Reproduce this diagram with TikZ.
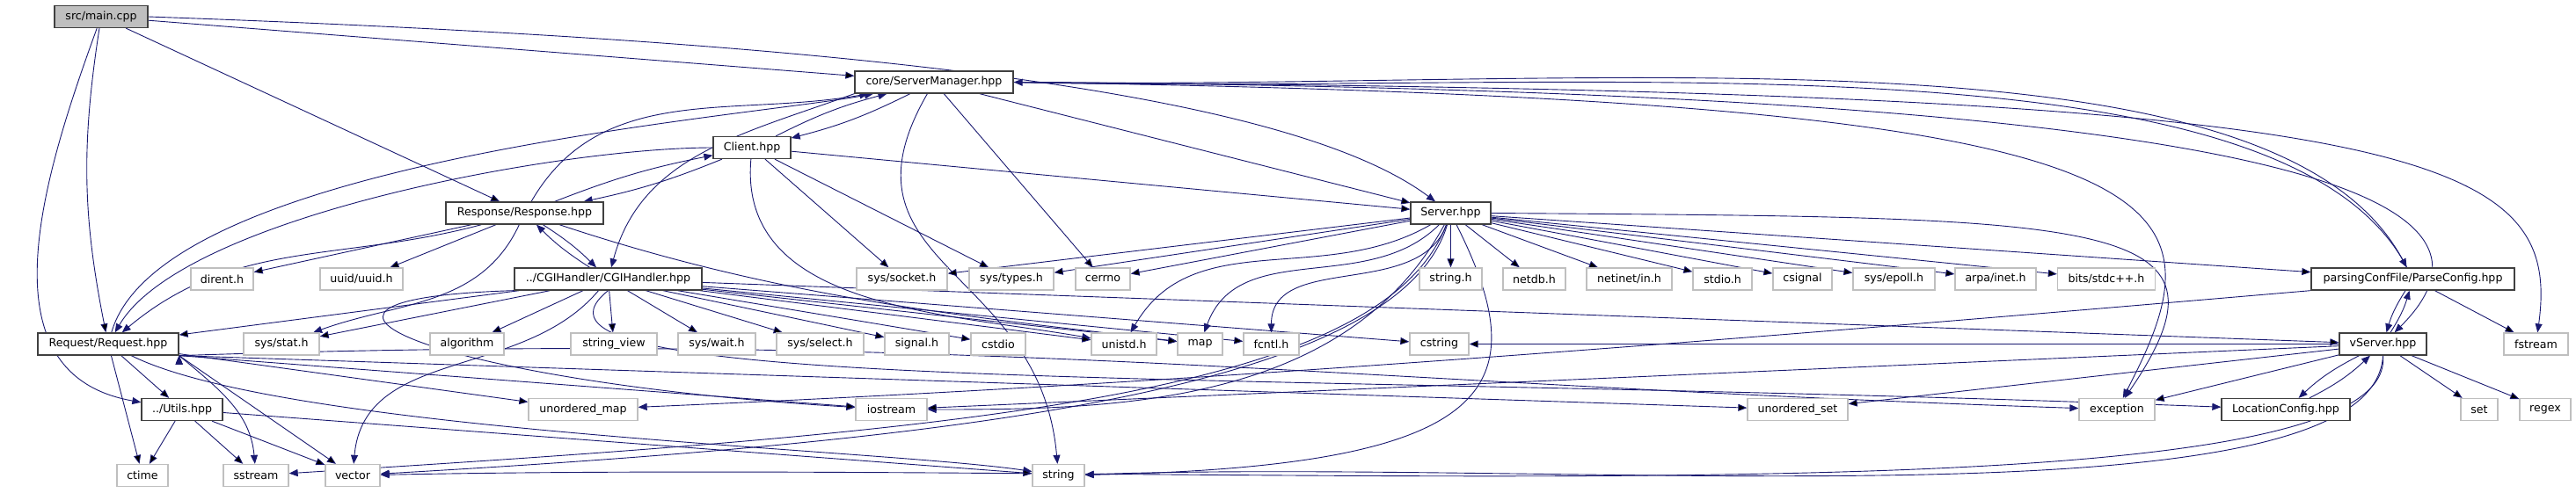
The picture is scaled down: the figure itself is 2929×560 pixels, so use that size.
\documentclass[tikz,border=0pt]{standalone}
\usepackage{fontspec}
\setmainfont{DejaVu Sans}
\usepackage{tikz}
\usetikzlibrary{arrows.meta,backgrounds}
\definecolor{edgeblue}{HTML}{191970}
\definecolor{boxgray}{HTML}{BFBFBF}
\tikzstyle{hfile}=[rectangle, draw=black!75, line width=1.3pt, fill=white, minimum height=25pt, inner sep=0pt, font=\fontsize{12.6}{14}\selectfont]
\tikzstyle{sysfile}=[hfile, draw=boxgray]
\tikzstyle{mainfile}=[hfile, fill=boxgray]
\tikzstyle{incl}=[draw=edgeblue, line width=0.9pt, -{Triangle[length=10pt,width=8pt]}]

\begin{document}
\begin{tikzpicture}[x=1pt,y=1pt]
			\useasboundingbox (0,0) rectangle (2929,-560);

			\node[mainfile,minimum width=106pt] (main) at (115,-19) {src/main.cpp};
			\node[hfile,minimum width=180pt] (sm) at (1062,-93.5) {core/ServerManager.hpp};
			\node[hfile,minimum width=88pt] (client) at (855,-168) {Client.hpp};
			\node[hfile,minimum width=179pt] (resp) at (596.5,-242.5) {Response/Response.hpp};
			\node[hfile,minimum width=91pt] (server) at (1649.5,-242.5) {Server.hpp};

			\node[sysfile,minimum width=71pt] (dirent) at (252.5,-317.5) {dirent.h};
			\node[sysfile,minimum width=94pt] (uuid) at (411,-317.5) {uuid/uuid.h};
			\node[hfile,minimum width=213pt] (cgi) at (691.5,-317.5) {../CGIHandler/CGIHandler.hpp};
			\node[sysfile,minimum width=103pt] (socket) at (1025.5,-317.5) {sys/socket.h};
			\node[sysfile,minimum width=96pt] (types) at (1150,-317.5) {sys/types.h};
			\node[sysfile,minimum width=62pt] (cerrno) at (1254,-317.5) {cerrno};
			\node[sysfile,minimum width=71pt] (stringh) at (1649.5,-317.5) {string.h};
			\node[sysfile,minimum width=71pt] (netdb) at (1744.5,-317.5) {netdb.h};
			\node[sysfile,minimum width=97pt] (netinet) at (1852.5,-317.5) {netinet/in.h};
			\node[sysfile,minimum width=67pt] (stdio) at (1958.5,-317.5) {stdio.h};
			\node[sysfile,minimum width=67pt] (csignal) at (2049.5,-317.5) {csignal};
			\node[sysfile,minimum width=93pt] (epoll) at (2153.5,-317.5) {sys/epoll.h};
			\node[sysfile,minimum width=92pt] (arpa) at (2269,-317.5) {arpa/inet.h};
			\node[sysfile,minimum width=111pt] (bits) at (2395,-317.5) {bits/stdc++.h};
			\node[hfile,minimum width=231pt] (parse) at (2743.5,-317.5) {parsingConfFile/ParseConfig.hpp};

			\node[hfile,minimum width=160pt] (request) at (123,-391.5) {Request/Request.hpp};
			\node[sysfile,minimum width=86pt] (stat) at (320,-391.5) {sys/stat.h};
			\node[sysfile,minimum width=84pt] (algorithm) at (531,-391.5) {algorithm};
			\node[sysfile,minimum width=98pt] (strview) at (698,-391.5) {string\_view};
			\node[sysfile,minimum width=88pt] (wait) at (815,-391.5) {sys/wait.h};
			\node[sysfile,minimum width=99pt] (select) at (932.5,-391.5) {sys/select.h};
			\node[sysfile,minimum width=73pt] (signal) at (1042.5,-391.5) {signal.h};
			\node[sysfile,minimum width=62pt] (cstdio) at (1135,-391.5) {cstdio};
			\node[sysfile,minimum width=74pt] (unistd) at (1278,-391.5) {unistd.h};
			\node[sysfile,minimum width=51pt] (map) at (1364.5,-391.5) {map};
			\node[sysfile,minimum width=63pt] (fcntl) at (1445.5,-391.5) {fcntl.h};
			\node[sysfile,minimum width=67pt] (cstring) at (1636.5,-391.5) {cstring};
			\node[hfile,minimum width=99pt] (vserver) at (2709.5,-391.5) {vServer.hpp};
			\node[sysfile,minimum width=73pt] (fstream) at (2883.5,-391.5) {fstream};

			\node[hfile,minimum width=92pt] (utils) at (207,-466) {../Utils.hpp};
			\node[sysfile,minimum width=124pt] (umap) at (663,-466) {unordered\_map};
			\node[sysfile,minimum width=81pt] (iostream) at (1013.5,-466) {iostream};
			\node[sysfile,minimum width=114pt] (uset) at (2044,-466) {unordered\_set};
			\node[sysfile,minimum width=86pt] (exception) at (2407,-466) {exception};
			\node[hfile,minimum width=146pt] (location) at (2599,-466) {LocationConfig.hpp};
			\node[sysfile,minimum width=42pt] (set) at (2819,-466) {set};
			\node[sysfile,minimum width=58pt] (regex) at (2894,-466) {regex};

			\node[sysfile,minimum width=58pt] (ctime) at (162,-541) {ctime};
			\node[sysfile,minimum width=74pt] (sstream) at (291,-541) {sstream};
			\node[sysfile,minimum width=62pt] (vector) at (401,-541) {vector};
			\node[sysfile,minimum width=59pt] (string) at (1203.5,-541) {string};

			\begin{scope}[on background layer]
			\draw[incl] (main) edge (sm);
			\draw[incl] (main.east) .. controls +(700,-25) and +(-200,150) .. (server);
			\draw[incl] (main) edge (resp);
			\draw[incl] (main) edge[bend right=10] (request);
			\draw[incl] (main) to[out=-110,in=170,looseness=1.1] (utils);

			\draw[incl] (sm) to[bend left=6] (client);
			\draw[incl] (sm) edge (server);
			\draw[incl] (sm) edge (cerrno);
			\draw[incl] (sm.south west) to[out=200,in=75] (cgi);
			\draw[incl] (sm) to[out=-120,in=95,looseness=1.3] (string);
			\draw[incl] (sm.east) .. controls +(650,-10) and +(-160,300) .. (parse);
			\draw[incl] (sm.east) .. controls +(1450,-10) and +(170,170) .. (vserver);
			\draw[incl] (sm.east) .. controls +(1600,-10) and +(30,220) .. (fstream);
			\draw[incl] (sm.east) .. controls +(1350,-20) and +(130,250) .. (exception);

			\draw[incl] (client) to[bend left=6] (sm);
			\draw[incl] (client) to[bend left=5] (resp);
			\draw[incl] (client.west) .. controls +(-175,0) and +(85,145) .. (request);
			\draw[incl] (client) edge (server);
			\draw[incl] (client) edge (socket);
			\draw[incl] (client) edge (types);
			\draw[incl] (client) to[out=-95,in=170] (unistd);

			\draw[incl] (resp) to[out=60,in=190] (sm);
			\draw[incl] (resp) to[bend left=5] (client);
			\draw[incl] (resp) to[bend left=6] (cgi);
			\draw[incl] (resp) edge (dirent);
			\draw[incl] (resp) edge (uuid);
			\draw[incl] (resp) to[out=-165,in=40] (request);
			\draw[incl] (resp) to[out=-115,in=20] (stat);
			\draw[incl] (resp) .. controls +(300,-100) and +(-250,30) .. (map);

			\draw[incl] (cgi) to[bend left=6] (resp);
			\draw[incl] (cgi) edge (request);
			\draw[incl] (cgi) edge (stat);
			\draw[incl] (cgi) edge (algorithm);
			\draw[incl] (cgi) edge (strview);
			\draw[incl] (cgi) edge (wait);
			\draw[incl] (cgi) edge (select);
			\draw[incl] (cgi) edge (signal);
			\draw[incl] (cgi) edge (cstdio);
			\draw[incl] (cgi) edge (unistd);
			\draw[incl] (cgi) edge (map);
			\draw[incl] (cgi) edge (fcntl);
			\draw[incl] (cgi) edge (cstring);
			\draw[incl] (cgi) edge (vserver);
			\draw[incl] (cgi) to[out=-130,in=85] (vector);
			\draw[incl] (cgi.south west) .. controls +(-330,-10) and +(-500,30) .. (iostream);
			\draw[incl] (cgi.south) .. controls +(-150,-120) and +(-1200,46) .. (location);

			\draw[incl] (request) .. controls +(60,210) and +(-210,-40) .. (sm);
			\draw[incl] (request) edge (utils);
			\draw[incl] (request) edge (ctime);
			\draw[incl] (request.south east) to[out=-40,in=95] (sstream);
			\draw[incl] (request.south east) edge (vector);
			\draw[incl] (request) edge (umap);
			\draw[incl] (request.south east) edge (iostream);
			\draw[incl] (request) .. controls +(200,-100) and +(-200,30) .. (string);
			\draw[incl] (request.south east) edge (uset);
			\draw[incl] (request.south east) .. controls +(900,30) and +(-900,30) .. (exception);

			\draw[incl] (utils) edge (ctime);
			\draw[incl] (utils) edge (sstream);
			\draw[incl] (utils) edge (vector);
			\draw[incl] (utils) edge (string);

			\draw[incl] (server) edge (socket);
			\draw[incl] (server) edge (types);
			\draw[incl] (server) edge (cerrno);
			\draw[incl] (server) edge (stringh);
			\draw[incl] (server) edge (netdb);
			\draw[incl] (server) edge (netinet);
			\draw[incl] (server) edge (stdio);
			\draw[incl] (server) edge (csignal);
			\draw[incl] (server) edge (epoll);
			\draw[incl] (server) edge (arpa);
			\draw[incl] (server) edge (bits);
			\draw[incl] (server) edge (parse);
			\draw[incl] (server) to[out=-150,in=60] (unistd);
			\draw[incl] (server) to[out=-135,in=70] (map);
			\draw[incl] (server) to[out=-110,in=90] (fcntl);
			\draw[incl] (server) .. controls +(100,-200) and +(500,10) .. (string);
			\draw[incl] (server) .. controls +(-120,-220) and +(250,0) .. (iostream);
			\draw[incl] (server) .. controls +(-60,-200) and +(700,40) .. (vector);
			\draw[incl] (server) .. controls +(-80,-210) and +(800,50) .. (sstream);
			\draw[incl] (server.east) .. controls +(700,-5) and +(150,220) .. (exception);

			\draw[incl] (parse) .. controls +(-150,290) and +(630,-15) .. (sm.east);
			\draw[incl] (parse) to[bend right=8] (vserver);
			\draw[incl] (parse) edge (fstream);
			\draw[incl] (parse.south west) .. controls +(-700,-60) and +(700,30) .. (umap);

			\draw[incl] (vserver) to[bend right=8] (parse);
			\draw[incl] (vserver) to[bend right=8] (location);
			\draw[incl] (vserver) edge (cstring);
			\draw[incl] (vserver) edge (iostream);
			\draw[incl] (vserver) edge (uset);
			\draw[incl] (vserver) edge (exception);
			\draw[incl] (vserver) edge (set);
			\draw[incl] (vserver) edge (regex);
			\draw[incl] (vserver.south) .. controls +(-10,-200) and +(600,20) .. (string);
			\draw[incl] (vserver.south) .. controls +(20,-200) and +(1000,20) .. (vector);

			\draw[incl] (location) to[bend right=8] (vserver);
			\end{scope}
		\end{tikzpicture}
\end{document}
